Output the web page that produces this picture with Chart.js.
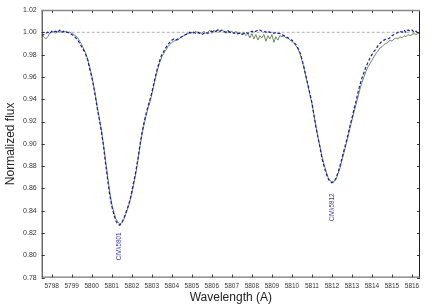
<!DOCTYPE html>
<html>
<head>
<meta charset="utf-8">
<script src="https://cdn.jsdelivr.net/npm/chart.js@4/dist/chart.umd.min.js"></script>
<style>
html,body{margin:0;padding:0;background:#fff;}
canvas{display:block;}
</style>
</head>
<body>
<canvas id="c" width="436" height="305"></canvas>
<script>
// Wavelength grid (Angstrom)
const wavelength = [
5797.5,5797.6,5797.7,5797.8,5797.9,5798.0,5798.1,5798.2,5798.3,5798.4,5798.5,5798.6,5798.7,5798.8,5798.9,
5799.0,5799.1,5799.2,5799.3,5799.4,5799.5,5799.6,5799.7,5799.8,5799.9,
5800.0,5800.1,5800.2,5800.3,5800.4,5800.5,5800.6,5800.7,5800.8,5800.9,
5801.0,5801.1,5801.2,5801.3,5801.4,5801.5,5801.6,5801.7,5801.8,5801.9,
5802.0,5802.1,5802.2,5802.3,5802.4,5802.5,5802.6,5802.7,5802.8,5802.9,
5803.0,5803.1,5803.2,5803.3,5803.4,5803.5,5803.6,5803.7,5803.8,5803.9,
5804.0,5804.1,5804.2,5804.3,5804.4,5804.5,5804.6,5804.7,5804.8,5804.9,
5805.0,5805.1,5805.2,5805.3,5805.4,5805.5,5805.6,5805.7,5805.8,5805.9,
5806.0,5806.1,5806.2,5806.3,5806.4,5806.5,5806.6,5806.7,5806.8,5806.9,
5807.0,5807.1,5807.2,5807.3,5807.4,5807.5,5807.6,5807.7,5807.8,5807.9,
5808.0,5808.1,5808.2,5808.3,5808.4,5808.5,5808.6,5808.7,5808.8,5808.9,
5809.0,5809.1,5809.2,5809.3,5809.4,5809.5,5809.6,5809.7,5809.8,5809.9,
5810.0,5810.1,5810.2,5810.3,5810.4,5810.5,5810.6,5810.7,5810.8,5810.9,
5811.0,5811.1,5811.2,5811.3,5811.4,5811.5,5811.6,5811.7,5811.8,5811.9,
5812.0,5812.1,5812.2,5812.3,5812.4,5812.5,5812.6,5812.7,5812.8,5812.9,
5813.0,5813.1,5813.2,5813.3,5813.4,5813.5,5813.6,5813.7,5813.8,5813.9,
5814.0,5814.1,5814.2,5814.3,5814.4,5814.5,5814.6,5814.7,5814.8,5814.9,
5815.0,5815.1,5815.2,5815.3,5815.4,5815.5,5815.6,5815.7,5815.8,5815.9,
5816.0,5816.1,5816.2,5816.3,5816.4
];

// Blue dashed spectrum
const fluxBlue = [
0.997,0.998,0.999,1.000,0.999,1.001,1.000,1.001,1.000,1.002,1.000,1.001,1.000,1.000,0.999,
0.998,0.997,0.995,0.993,0.990,0.987,0.984,0.980,0.975,0.967,
0.960,0.951,0.940,0.929,0.920,0.909,0.896,0.881,0.867,0.854,
0.844,0.837,0.831,0.828,0.827,0.829,0.833,0.838,0.843,0.849,
0.857,0.866,0.875,0.886,0.898,0.909,0.918,0.926,0.933,0.939,
0.946,0.954,0.962,0.969,0.975,0.980,0.983,0.986,0.989,0.991,
0.993,0.994,0.993,0.994,0.995,0.996,0.997,0.998,0.999,1.000,
0.999,1.000,0.999,1.000,0.999,0.998,0.999,1.000,0.999,1.000,
1.001,1.000,1.001,1.002,1.001,1.002,1.001,1.000,1.001,1.000,
1.000,0.999,1.000,0.999,0.999,0.998,0.999,1.000,0.999,1.000,
1.001,1.000,1.001,1.002,1.002,1.001,1.001,1.000,1.001,1.000,
1.000,0.999,1.000,0.999,0.999,0.998,0.997,0.996,0.995,0.994,
0.993,0.991,0.989,0.986,0.982,0.976,0.969,0.961,0.953,0.945,
0.937,0.926,0.915,0.906,0.897,0.887,0.880,0.874,0.869,0.866,
0.865,0.866,0.869,0.874,0.880,0.887,0.894,0.901,0.908,0.916,
0.923,0.931,0.938,0.946,0.953,0.959,0.964,0.969,0.973,0.977,
0.980,0.983,0.985,0.988,0.990,0.992,0.993,0.994,0.994,0.995,
0.997,0.998,0.999,1.000,1.001,1.000,1.002,1.000,1.002,1.001,
1.002,1.000,1.001,0.999,1.000
];

// Green solid spectrum
const fluxGreen = [
0.998,0.996,0.994,0.996,0.999,1.000,1.001,0.999,1.001,1.000,1.001,1.000,1.001,1.000,1.000,
0.999,0.998,0.997,0.995,0.992,0.989,0.985,0.981,0.976,0.969,
0.961,0.952,0.942,0.931,0.921,0.910,0.898,0.884,0.870,0.857,
0.846,0.839,0.833,0.830,0.828,0.829,0.832,0.837,0.842,0.848,
0.855,0.864,0.873,0.884,0.896,0.907,0.916,0.924,0.931,0.937,
0.944,0.952,0.960,0.967,0.973,0.978,0.981,0.984,0.987,0.989,
0.991,0.992,0.993,0.993,0.995,0.996,0.997,0.998,0.999,0.999,
1.000,0.999,1.001,0.999,1.000,0.999,1.001,0.999,1.000,1.002,
0.999,1.002,1.000,1.003,1.000,1.002,1.001,0.999,1.002,1.000,
1.001,0.999,1.001,0.998,1.000,0.998,1.000,0.997,0.999,0.995,
0.999,0.994,0.998,0.993,0.997,0.995,0.998,0.992,0.997,0.994,
0.998,0.991,0.996,0.993,0.997,0.996,0.997,0.995,0.995,0.993,
0.992,0.990,0.988,0.985,0.981,0.975,0.968,0.960,0.952,0.944,
0.936,0.926,0.916,0.906,0.898,0.889,0.882,0.876,0.870,0.867,
0.866,0.866,0.868,0.873,0.878,0.885,0.892,0.899,0.906,0.914,
0.921,0.928,0.935,0.942,0.949,0.955,0.960,0.965,0.969,0.972,
0.975,0.978,0.981,0.983,0.986,0.987,0.989,0.990,0.991,0.993,
0.992,0.994,0.995,0.994,0.996,0.995,0.997,0.996,0.998,0.997,
0.998,0.999,0.998,0.999,0.998
];

// Continuum reference line
const continuumX = [5797.5, 5816.4];
const continuumY = [1.0, 1.0];

// Axis limits / tick labels
const xRange = [5797.5, 5816.4];
const yRange = [0.78, 1.02];
const xTicks = [5798,5799,5800,5801,5802,5803,5804,5805,5806,5807,5808,5809,5810,5811,5812,5813,5814,5815,5816];
const yTicks = [0.78,0.80,0.82,0.84,0.86,0.88,0.90,0.92,0.94,0.96,0.98,1.00,1.02];

// Line identifications
const lineLabels = ["CIVλ5801", "CIVλ5812"];
const lineLabelX = [5801.37, 5812.0];
const lineLabelY = [0.808, 0.843];

const toPts = (xs, ys) => xs.map((x, i) => ({x: x, y: ys[i]}));
const FONT = '"Liberation Sans", Arial, sans-serif';

const framePlugin = {
  id: 'frame',
  afterDatasetsDraw(chart) {
    const ctx = chart.ctx, a = chart.chartArea;
    const xs = chart.scales.x, ys = chart.scales.y;
    ctx.save();
    // inward ticks
    ctx.strokeStyle = '#333';
    ctx.lineWidth = 1;
    ctx.beginPath();
    xs.ticks.forEach(t => {
      const px = Math.round(xs.getPixelForValue(t.value)) + 0.5;
      ctx.moveTo(px, a.bottom); ctx.lineTo(px, a.bottom - 3);
      ctx.moveTo(px, a.top); ctx.lineTo(px, a.top + 3);
    });
    ys.ticks.forEach(t => {
      const py = Math.round(ys.getPixelForValue(t.value)) + 0.5;
      ctx.moveTo(a.left, py); ctx.lineTo(a.left + 3, py);
      ctx.moveTo(a.right, py); ctx.lineTo(a.right - 3, py);
    });
    ctx.stroke();
    // frame
    ctx.strokeStyle = '#222';
    ctx.beginPath();
    ctx.moveTo(a.left + 0.5, a.top); ctx.lineTo(a.left + 0.5, a.bottom);
    ctx.moveTo(a.right - 0.5, a.top); ctx.lineTo(a.right - 0.5, a.bottom);
    ctx.stroke();
    ctx.strokeStyle = '#555';
    ctx.beginPath();
    ctx.moveTo(a.left, a.bottom - 0.5); ctx.lineTo(a.right, a.bottom - 0.5);
    ctx.stroke();
    ctx.strokeStyle = '#888';
    ctx.lineWidth = 1.5;
    ctx.beginPath();
    ctx.moveTo(a.left, a.top + 0.5); ctx.lineTo(a.right, a.top + 0.5);
    ctx.stroke();
    // line labels
    ctx.fillStyle = '#3b3ba6';
    ctx.font = '6.3px ' + FONT;
    ctx.textAlign = 'center';
    ctx.textBaseline = 'middle';
    lineLabels.forEach((s, i) => {
      const px = xs.getPixelForValue(lineLabelX[i]);
      const py = ys.getPixelForValue(lineLabelY[i]);
      ctx.save();
      ctx.translate(px, py);
      ctx.rotate(-Math.PI / 2);
      ctx.fillText(s, 0, 0);
      ctx.restore();
    });
    ctx.restore();
  }
};

new Chart(document.getElementById('c'), {
  type: 'line',
  data: {
    datasets: [
      {
        data: toPts(wavelength, fluxBlue),
        borderColor: '#1c1ca8',
        borderWidth: 1.2,
        borderDash: [3, 2],
        pointRadius: 0,
        tension: 0,
        fill: false
      },
      {
        data: toPts(wavelength, fluxGreen),
        borderColor: '#6e8a64',
        borderWidth: 1,
        pointRadius: 0,
        tension: 0,
        fill: false
      },
      {
        data: toPts(continuumX, continuumY),
        borderColor: '#9a9a9a',
        borderWidth: 0.8,
        borderDash: [3, 2],
        pointRadius: 0,
        fill: false
      }
    ]
  },
  options: {
    responsive: false,
    animation: false,
    devicePixelRatio: 1,
    layout: {padding: {left: 0, right: 16, top: 10, bottom: 0}},
    plugins: {legend: {display: false}, tooltip: {enabled: false}},
    scales: {
      x: {
        type: 'linear',
        min: xRange[0], max: xRange[1],
        afterBuildTicks(scale) { scale.ticks = xTicks.map(v => ({value: v})); },
        afterFit(scale) { scale.height = 27.4; },
        ticks: {
          autoSkip: false,
          maxRotation: 0,
          minRotation: 0,
          padding: 5,
          color: '#333',
          font: {family: FONT, size: 6.5},
          callback: v => String(Math.round(v))
        },
        grid: {display: true, drawOnChartArea: false, drawTicks: false},
        border: {display: false},
        title: {
          display: true, text: 'Wavelength (A)', color: '#222',
          font: {family: FONT, size: 12},
          padding: {top: 0, bottom: 0}
        }
      },
      y: {
        type: 'linear',
        min: yRange[0], max: yRange[1],
        afterBuildTicks(scale) { scale.ticks = yTicks.map(v => ({value: v})); },
        afterFit(scale) { scale.width = 41.7; },
        ticks: {
          autoSkip: false,
          padding: 5,
          color: '#333',
          font: {family: FONT, size: 7},
          callback: v => v.toFixed(2)
        },
        grid: {display: true, drawOnChartArea: false, drawTicks: false},
        border: {display: false},
        title: {
          display: true, text: 'Normalized flux', color: '#222',
          font: {family: FONT, size: 12},
          padding: {top: 3, bottom: 0}
        }
      }
    }
  },
  plugins: [framePlugin]
});
</script>
</body>
</html>
